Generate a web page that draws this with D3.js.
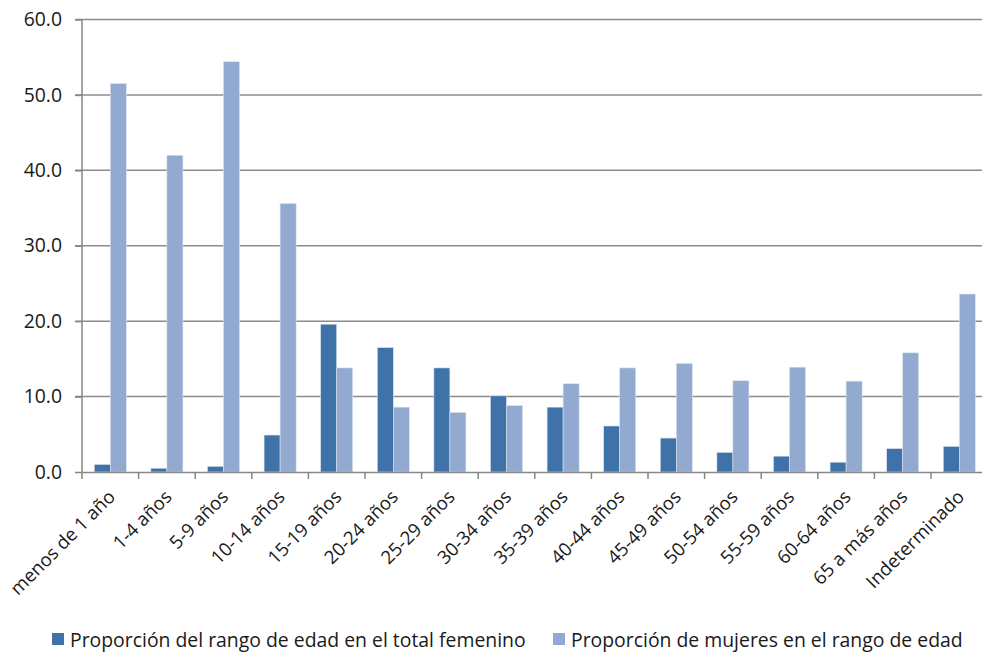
<!DOCTYPE html>
<html>
<head>
<meta charset="utf-8">
<script src="https://cdn.jsdelivr.net/npm/d3@7"></script>
<style>
  body { margin: 0; background: #fff; }
  svg { display: block; font-family: "Open Sans", sans-serif; }
</style>
</head>
<body>
<div id="chart"></div>
<script>
const categories = ["menos de 1 año", "1-4 años", "5-9 años", "10-14 años", "15-19 años", "20-24 años",
    "25-29 años", "30-34 años", "35-39 años", "40-44 años", "45-49 años", "50-54 años",
    "55-59 años", "60-64 años", "65 a más años", "Indeterminado"];
const seriesNames = ["Proporción del rango de edad en el total femenino", "Proporción de mujeres en el rango de edad"];
const totalFemenino = [1.0, 0.5, 0.75, 4.9, 19.6, 16.5, 13.8, 10.1, 8.6, 6.1, 4.5, 2.6, 2.1, 1.3, 3.1, 3.4];
const mujeresRango = [51.5, 42.0, 54.4, 35.6, 13.8, 8.6, 7.9, 8.8, 11.7, 13.8, 14.4, 12.1, 13.9, 12.05, 15.8, 23.6];
const yTicks = [0, 10, 20, 30, 40, 50, 60];
const colors = ["#3F72A8", "#92A9D0"];

const width = 982, height = 654;
const margin = {top: 19.5, left: 82, bottom: 472};
const plotRight = 82 + 16 * 56.6;
const fontSize = 19.4;

const svg = d3.select("#chart").append("svg")
    .attr("width", width)
    .attr("height", height);

const x = d3.scaleBand()
    .domain(categories)
    .range([margin.left, plotRight])
    .padding(0);

const y = d3.scaleLinear()
    .domain([0, 60])
    .range([margin.bottom, margin.top]);

// gridlines
svg.append("g")
    .selectAll("line")
    .data(yTicks.filter(d => d > 0))
    .enter().append("line")
    .attr("x1", margin.left - 7)
    .attr("x2", plotRight)
    .attr("y1", d => y(d))
    .attr("y2", d => y(d))
    .attr("stroke", "#8c8c8c")
    .attr("stroke-width", 1.5);

// bars
const barW = x.bandwidth() * 0.283;
const off = (x.bandwidth() - 2 * barW) / 2;
const series = [totalFemenino, mujeresRango];
series.forEach((vals, s) => {
    svg.append("g")
        .selectAll("rect")
        .data(vals)
        .enter().append("rect")
        .attr("x", (d, i) => x(categories[i]) + off + s * barW)
        .attr("y", d => y(d))
        .attr("width", barW)
        .attr("height", d => y(0) - y(d))
        .attr("fill", colors[s])
        .attr("stroke", "#dbe3ef")
        .attr("stroke-width", 0.6);
});

// y axis
const yAxis = svg.append("g")
    .attr("transform", `translate(${margin.left},0)`)
    .call(d3.axisLeft(y).tickValues(yTicks).tickFormat(d3.format(".1f")).tickSize(7).tickPadding(13));
yAxis.select(".domain").attr("stroke", "#868686").attr("stroke-width", 1.5).attr("d", `M0,${y(60)}V${y(0)}`);
yAxis.selectAll(".tick line").attr("stroke", "#868686").attr("stroke-width", 1.5);
yAxis.selectAll(".tick text").attr("font-size", fontSize).attr("fill", "#1a1a1a").attr("font-family", "Open Sans, sans-serif");

// x axis
const xAxis = svg.append("g")
    .attr("transform", `translate(0,${margin.bottom})`)
    .call(d3.axisBottom(x).tickSize(0).tickFormat(""));
xAxis.select(".domain").attr("stroke", "#868686").attr("stroke-width", 1.5);

// category tick marks at band edges
svg.append("g")
    .selectAll("line")
    .data(categories)
    .enter().append("line")
    .attr("x1", d => x(d))
    .attr("x2", d => x(d))
    .attr("y1", margin.bottom)
    .attr("y2", margin.bottom + 7)
    .attr("stroke", "#868686")
    .attr("stroke-width", 1.5);

// rotated category labels
svg.append("g")
    .selectAll("text")
    .data(categories)
    .enter().append("text")
    .attr("transform", d => `translate(${x(d) + x.bandwidth() / 2 + 6},${margin.bottom + 26}) rotate(-45)`)
    .attr("text-anchor", "end")
    .attr("font-size", 18.6)
    .attr("fill", "#1a1a1a")
    .text(d => d);

// legend
const legend = svg.append("g").attr("transform", "translate(0,640)");
const legendX = [52, 553];
seriesNames.forEach((name, i) => {
    legend.append("rect")
        .attr("x", legendX[i])
        .attr("y", -7)
        .attr("width", 12)
        .attr("height", 12)
        .attr("fill", colors[i]);
    legend.append("text")
        .attr("x", legendX[i] + 18)
        .attr("y", 0)
        .attr("dy", "0.35em")
        .attr("font-size", fontSize)
        .attr("fill", "#1a1a1a")
        .text(name);
});
</script>
</body>
</html>
